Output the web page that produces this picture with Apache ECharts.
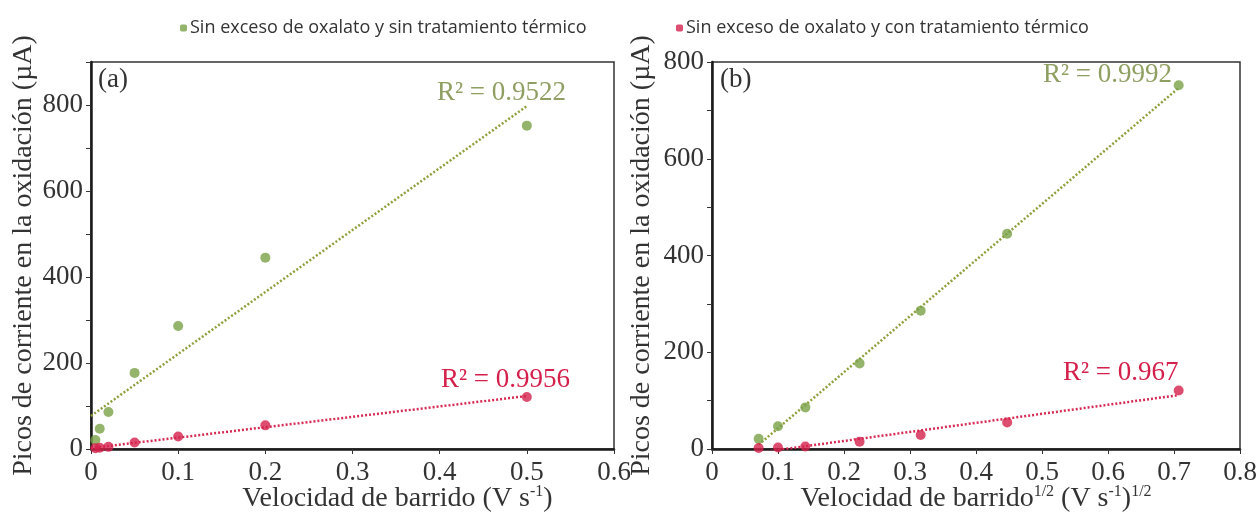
<!DOCTYPE html>
<html>
<head>
<meta charset="utf-8">
<script src="https://cdn.jsdelivr.net/npm/echarts@6/dist/echarts.min.js"></script>
<style>
  html, body { margin: 0; padding: 0; background: #ffffff; }
  #chart { width: 1257px; height: 513px; }
</style>
</head>
<body>
<div id="chart"></div>
<script>
// Scan rates (V s-1) and their square roots
const scanRates = [0.005, 0.01, 0.02, 0.05, 0.1, 0.2, 0.5];
const sqrtScanRates = [0.0707, 0.1, 0.1414, 0.2236, 0.3162, 0.4472, 0.7071];

// Oxidation peak currents (µA)
const peakNoHeat = [21, 47, 86, 177, 286, 445, 752];
const peakHeat = [2, 3, 5, 15, 29, 55, 121];

const seriesNames = [
  'Sin exceso de oxalato y sin tratamiento térmico',
  'Sin exceso de oxalato y con tratamiento térmico'
];
const r2TextA = ['R² = 0.9522', 'R² = 0.9956'];
const r2TextB = ['R² = 0.9992', 'R² = 0.967'];
const panelTags = ['(a)', '(b)'];

const GREEN = '#79a046';
const GREEN_LINE = '#8da03c';
const GREEN_TEXT = '#8f9f62';
const RED = '#d5204b';
const RED_LINE = '#d72a52';
const SERIF = '"Liberation Serif", "Times New Roman", serif';

// least-squares straight line
function linFit(xs, ys) {
  const n = xs.length;
  const mx = xs.reduce((a, b) => a + b, 0) / n;
  const my = ys.reduce((a, b) => a + b, 0) / n;
  let sxx = 0, sxy = 0;
  for (let i = 0; i < n; i++) {
    sxx += (xs[i] - mx) * (xs[i] - mx);
    sxy += (xs[i] - mx) * (ys[i] - my);
  }
  const m = sxy / sxx;
  return { m: m, b: my - m * mx };
}
function fitLine(xs, ys, x0, x1) {
  const f = linFit(xs, ys);
  return [[x0, f.m * x0 + f.b], [x1, f.m * x1 + f.b]];
}
function pairs(xs, ys) { return xs.map((x, i) => [x, ys[i]]); }

const chart = echarts.init(document.getElementById('chart'), null, { renderer: 'canvas' });

const axisLineStyle = { color: '#1a1a1a', width: 2.5 };
const tickStyle = { show: true, inside: false, length: 5, lineStyle: { color: '#333', width: 1 } };
const labelStyle = { fontFamily: SERIF, fontSize: 27, color: '#333' };
function nameStyle(extra) {
  return Object.assign({
    fontFamily: SERIF, fontSize: 28, color: '#333',
    rich: {
      sup: { fontFamily: SERIF, fontSize: 16, color: '#333', verticalAlign: 'top', padding: [0, 0, 13, 0] }
    }
  }, extra || {});
}
const yName = 'Picos de corriente en la oxidación (µA)';

function xAxisCfg(grid, max, name, extra) {
  return {
    type: 'value', gridIndex: grid, min: 0, max: max, interval: 0.1,
    name: name, nameLocation: 'middle', nameGap: 35, nameMoveOverlap: false,
    nameTextStyle: nameStyle(extra),
    axisLine: { show: true, onZero: false, lineStyle: axisLineStyle },
    axisTick: tickStyle,
    axisLabel: Object.assign({ margin: 10, formatter: v => String(+v.toFixed(1)) }, labelStyle),
    splitLine: { show: false }
  };
}
function yAxisCfg(grid, max, gap) {
  return {
    type: 'value', gridIndex: grid, min: 0, max: max, interval: 100,
    name: yName, nameLocation: 'middle', nameGap: gap, nameRotate: 90, nameMoveOverlap: false,
    nameTextStyle: nameStyle(),
    axisLine: { show: true, onZero: false, lineStyle: axisLineStyle },
    axisTick: tickStyle,
    axisLabel: Object.assign({ margin: 8, formatter: v => (v % 200 === 0 ? String(v) : '') }, labelStyle),
    splitLine: { show: false }
  };
}

function scatter(name, xi, data, color) {
  return {
    name: name, type: 'scatter', xAxisIndex: xi, yAxisIndex: xi, data: data,
    symbol: 'circle', symbolSize: 10, itemStyle: { color: color }, z: 5
  };
}
function trend(xi, data, color) {
  return {
    name: 'ajuste', type: 'line', xAxisIndex: xi, yAxisIndex: xi, data: data,
    showSymbol: false, silent: true, clip: true, z: 3,
    lineStyle: { color: color, width: 2.5, type: [2, 2] }
  };
}

const fitAGreen = fitLine(scanRates, peakNoHeat, 0, scanRates[scanRates.length - 1]);
const fitARed = fitLine(scanRates, peakHeat, 0, scanRates[scanRates.length - 1]);
const fitBGreen = fitLine(sqrtScanRates, peakNoHeat, sqrtScanRates[0], sqrtScanRates[sqrtScanRates.length - 1]);
const fitBRed = fitLine(sqrtScanRates, peakHeat, sqrtScanRates[0], sqrtScanRates[sqrtScanRates.length - 1]);

function legendCfg(left, name, color) {
  return {
    top: 14, left: left, itemWidth: 7, itemHeight: 7, itemGap: 0,
    icon: 'roundRect', data: [{ name: name, itemStyle: { color: color } }],
    textStyle: { fontFamily: '"Open Sans", sans-serif', fontSize: 18, color: '#333', padding: [0, 0, 0, -2] },
    selectedMode: false
  };
}

function textEl(x, y, text, color, size) {
  return {
    type: 'text', left: x, top: y, z: 10,
    style: { text: text, fill: color, font: size + 'px ' + SERIF }
  };
}

const gridBase = {
  top: 62, bottom: 64, show: true, borderColor: '#333', borderWidth: 1.5,
  backgroundColor: 'transparent', containLabel: false, outerBoundsMode: 'none'
};

const option = {
  backgroundColor: '#ffffff',
  animation: false,
  legend: [
    legendCfg(175, seriesNames[0], GREEN),
    legendCfg(671, seriesNames[1], RED)
  ],
  grid: [
    Object.assign({ left: 91, right: 643 }, gridBase),
    Object.assign({ left: 712, right: 17 }, gridBase)
  ],
  xAxis: [
    xAxisCfg(0, 0.6, 'Velocidad de barrido (V s{sup|-1})', { padding: [0, 0, 0, 90] }),
    xAxisCfg(1, 0.8, 'Velocidad de barrido{sup|1/2} (V s{sup|-1}){sup|1/2}')
  ],
  yAxis: [yAxisCfg(0, 900, 53), yAxisCfg(1, 800, 56)],
  series: [
    trend(0, fitAGreen, GREEN_LINE),
    trend(0, fitARed, RED_LINE),
    scatter(seriesNames[0], 0, pairs(scanRates, peakNoHeat), GREEN),
    scatter(seriesNames[1], 0, pairs(scanRates, peakHeat), RED),
    trend(1, fitBGreen, GREEN_LINE),
    trend(1, fitBRed, RED_LINE),
    scatter(seriesNames[0], 1, pairs(sqrtScanRates, peakNoHeat), GREEN),
    scatter(seriesNames[1], 1, pairs(sqrtScanRates, peakHeat), RED)
  ],
  graphic: [
    textEl(98, 66, panelTags[0], '#333', 27),
    textEl(720, 66, panelTags[1], '#333', 27),
    textEl(437, 79, r2TextA[0], GREEN_TEXT, 27),
    textEl(441, 366, r2TextA[1], RED, 27),
    textEl(1043, 61, r2TextB[0], GREEN_TEXT, 27),
    textEl(1063, 359, r2TextB[1], RED, 27)
  ]
};

chart.setOption(option);
</script>
</body>
</html>
